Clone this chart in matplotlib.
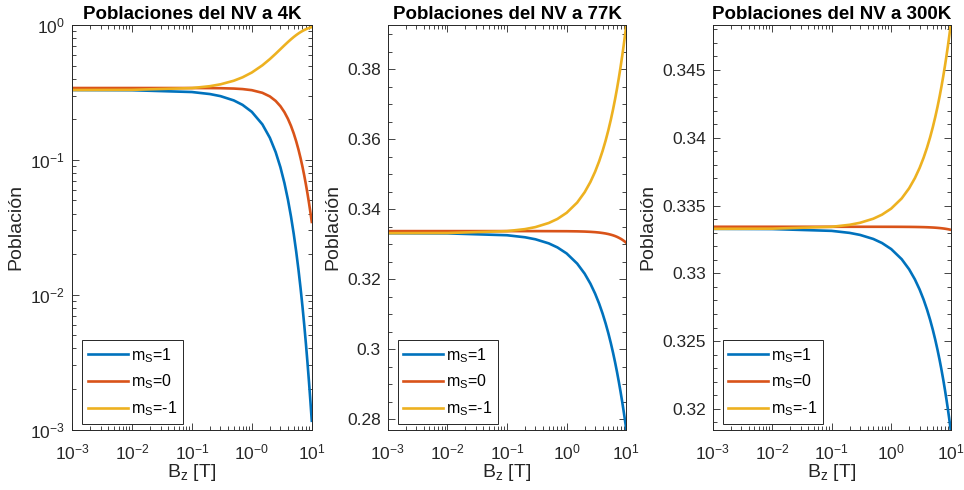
import numpy as np
import matplotlib.pyplot as plt
from matplotlib.ticker import AutoMinorLocator, LogLocator, NullFormatter, FixedLocator

plt.rcParams['font.family'] = ['Liberation Sans', 'DejaVu Sans']
plt.rcParams['mathtext.fontset'] = 'custom'
plt.rcParams['mathtext.rm'] = 'Liberation Sans'
plt.rcParams['mathtext.it'] = 'Liberation Sans'
plt.rcParams['mathtext.default'] = 'regular'

# campo magnetico [T]
bz = [0.001, 0.01, 0.1, 0.2, 0.3, 0.5, 0.7, 1, 1.5, 2, 2.5, 3, 3.5, 4, 4.5,
      5, 5.5, 6, 6.5, 7, 7.5, 8, 8.5, 9, 9.5, 10]

# 4 K
p4_p1 = [0.32937, 0.32838, 0.31848, 0.30762, 0.29690, 0.27597, 0.25576, 0.22695, 0.18339, 0.14577,
         0.11414, 0.088171, 0.067307, 0.050854, 0.038084, 0.028307, 0.020907, 0.015359, 0.011233,
         0.008185, 0.005945, 0.004307, 0.003113, 0.002246, 0.0016184, 0.0011645]
p4_0 = [0.34103, 0.34103, 0.34090, 0.34052, 0.33989, 0.33788, 0.33490, 0.32869, 0.31418, 0.29541,
        0.27361, 0.25002, 0.22577, 0.20178, 0.17875, 0.15717, 0.13731, 0.11932, 0.10323,
        0.088974, 0.076446, 0.065511, 0.056018, 0.047813, 0.040747, 0.034681]
p4_m1 = [0.32960, 0.33059, 0.34062, 0.35186, 0.36321, 0.38615, 0.40934, 0.44436, 0.50243, 0.55882,
         0.61225, 0.66180, 0.70693, 0.74736, 0.78316, 0.81452, 0.84178, 0.86531, 0.88554,
         0.90285, 0.91761, 0.93018, 0.94087, 0.94995, 0.95763, 0.96416]

# 77 K
p77_p1 = [0.33313, 0.33308, 0.33255, 0.33197, 0.33139, 0.33023, 0.32907, 0.32734, 0.32445, 0.32158,
          0.31871, 0.31585, 0.31301, 0.31017, 0.30734, 0.30453, 0.30172, 0.29892, 0.29614,
          0.29337, 0.29060, 0.28785, 0.28511, 0.28239, 0.27967, 0.27697]
p77_0 = [0.33373, 0.33373, 0.33373, 0.33373, 0.33373, 0.33372, 0.33371, 0.33370, 0.33366, 0.33360,
         0.33352, 0.33343, 0.33332, 0.33319, 0.33305, 0.33289, 0.33271, 0.33252, 0.33231,
         0.33208, 0.33183, 0.33157, 0.33130, 0.33100, 0.33070, 0.33037]
p77_m1 = [0.33314, 0.33319, 0.33372, 0.33430, 0.33488, 0.33605, 0.33721, 0.33897, 0.34189, 0.34483,
          0.34777, 0.35072, 0.35368, 0.35664, 0.35961, 0.36259, 0.36557, 0.36856, 0.37156,
          0.37456, 0.37756, 0.38057, 0.38359, 0.38661, 0.38963, 0.39265]

# 300 K
p300_p1 = [0.333281, 0.333267, 0.333133, 0.332984, 0.332834, 0.332536, 0.332238, 0.331791, 0.331045, 0.330301,
           0.329557, 0.328814, 0.328071, 0.327329, 0.326587, 0.325846, 0.325106, 0.324366, 0.323627,
           0.322888, 0.322150, 0.321413, 0.320676, 0.319940, 0.319205, 0.318470]
p300_0 = [0.333435, 0.333435, 0.333435, 0.333435, 0.333435, 0.333435, 0.333434, 0.333433, 0.333430, 0.333426,
          0.333421, 0.333415, 0.333408, 0.333400, 0.333390, 0.333380, 0.333368, 0.333355, 0.333341,
          0.333326, 0.333310, 0.333293, 0.333274, 0.333255, 0.333234, 0.333213]
p300_m1 = [0.333284, 0.333297, 0.333431, 0.333581, 0.333730, 0.334029, 0.334328, 0.334776, 0.335524, 0.336272,
           0.337021, 0.337771, 0.338521, 0.339271, 0.340022, 0.340774, 0.341526, 0.342278, 0.343032,
           0.343785, 0.344540, 0.345294, 0.346049, 0.346805, 0.347561, 0.348317]

labels = ['m$_S$=1', 'm$_S$=0', 'm$_S$=-1']
colors = ['#0072BD', '#D95319', '#EDB120']
dark = '#262626'

fig = plt.figure(figsize=(9.64, 4.9), dpi=100)
pos = [[0.0747, 0.1231, 0.2487, 0.8259],
       [0.4022, 0.1231, 0.2475, 0.8259],
       [0.7393, 0.1231, 0.2469, 0.8259]]
datos = [(p4_p1, p4_0, p4_m1, '4K'), (p77_p1, p77_0, p77_m1, '77K'), (p300_p1, p300_0, p300_m1, '300K')]

for i, (a, b, c, temp) in enumerate(datos):
    ax = fig.add_axes(pos[i])
    for y, col, lab in zip([a, b, c], colors, labels):
        ax.plot(bz, y, color=col, lw=1.9, label=lab)
    ax.set_xscale('log')
    ax.set_xlim(1e-3, 10)
    ax.xaxis.set_major_locator(FixedLocator([1e-3, 1e-2, 1e-1, 1, 10]))
    ax.xaxis.set_minor_locator(LogLocator(base=10, subs=np.arange(2, 10), numticks=20))
    ax.xaxis.set_minor_formatter(NullFormatter())
    if i == 0:
        ax.set_xticklabels(['$10^{-3}$', '$10^{-2}$', '$10^{-1}$', '$10^{-0}$', '$10^{1}$'])
        ax.set_yscale('log')
        ax.set_ylim(1e-3, 1)
        ax.yaxis.set_major_locator(FixedLocator([1e-3, 1e-2, 1e-1, 1]))
        ax.set_yticklabels(['$10^{-3}$', '$10^{-2}$', '$10^{-1}$', '$10^{0}$'])
        ax.yaxis.set_minor_locator(LogLocator(base=10, subs=np.arange(2, 10), numticks=20))
        ax.yaxis.set_minor_formatter(NullFormatter())
    else:
        ax.set_xticklabels(['$10^{-3}$', '$10^{-2}$', '$10^{-1}$', '$10^{0}$', '$10^{1}$'])
        ax.set_ylim(min(a), max(c))
        if i == 1:
            ax.set_yticks([0.28, 0.30, 0.32, 0.34, 0.36, 0.38])
            ax.set_yticklabels(['0.28', '0.3', '0.32', '0.34', '0.36', '0.38'])
            ax.yaxis.set_minor_locator(AutoMinorLocator(4))
        else:
            ax.set_yticks([0.32, 0.325, 0.33, 0.335, 0.34, 0.345])
            ax.set_yticklabels(['0.32', '0.325', '0.33', '0.335', '0.34', '0.345'])
            ax.yaxis.set_minor_locator(AutoMinorLocator(5))
    ax.tick_params(which='both', direction='in', top=True, right=True, colors=dark,
                   labelsize=12.5, width=0.6)
    ax.tick_params(which='major', length=5)
    ax.tick_params(which='minor', length=3)
    ax.tick_params(axis='x', which='major', pad=9)
    ax.tick_params(axis='y', which='major', pad=5)
    for s in ax.spines.values():
        s.set_color(dark)
        s.set_linewidth(0.7)
    ax.set_title('Poblaciones del NV a ' + temp, fontsize=13.5, fontweight='bold', pad=4)
    ax.set_xlabel('B$_z$ [T]', fontsize=14, color=dark, labelpad=0)
    ax.set_ylabel('Población', fontsize=14, color=dark)
    leg = ax.legend(loc='lower left', bbox_to_anchor=(0.042, 0.015), borderaxespad=0,
                    fontsize=11.5, frameon=True, fancybox=False, edgecolor=dark, framealpha=1,
                    handlelength=2.5, handletextpad=0.2, borderpad=0.35, labelspacing=0.5)
    leg.get_frame().set_linewidth(0.7)

fig.savefig('out.png', dpi=100)
